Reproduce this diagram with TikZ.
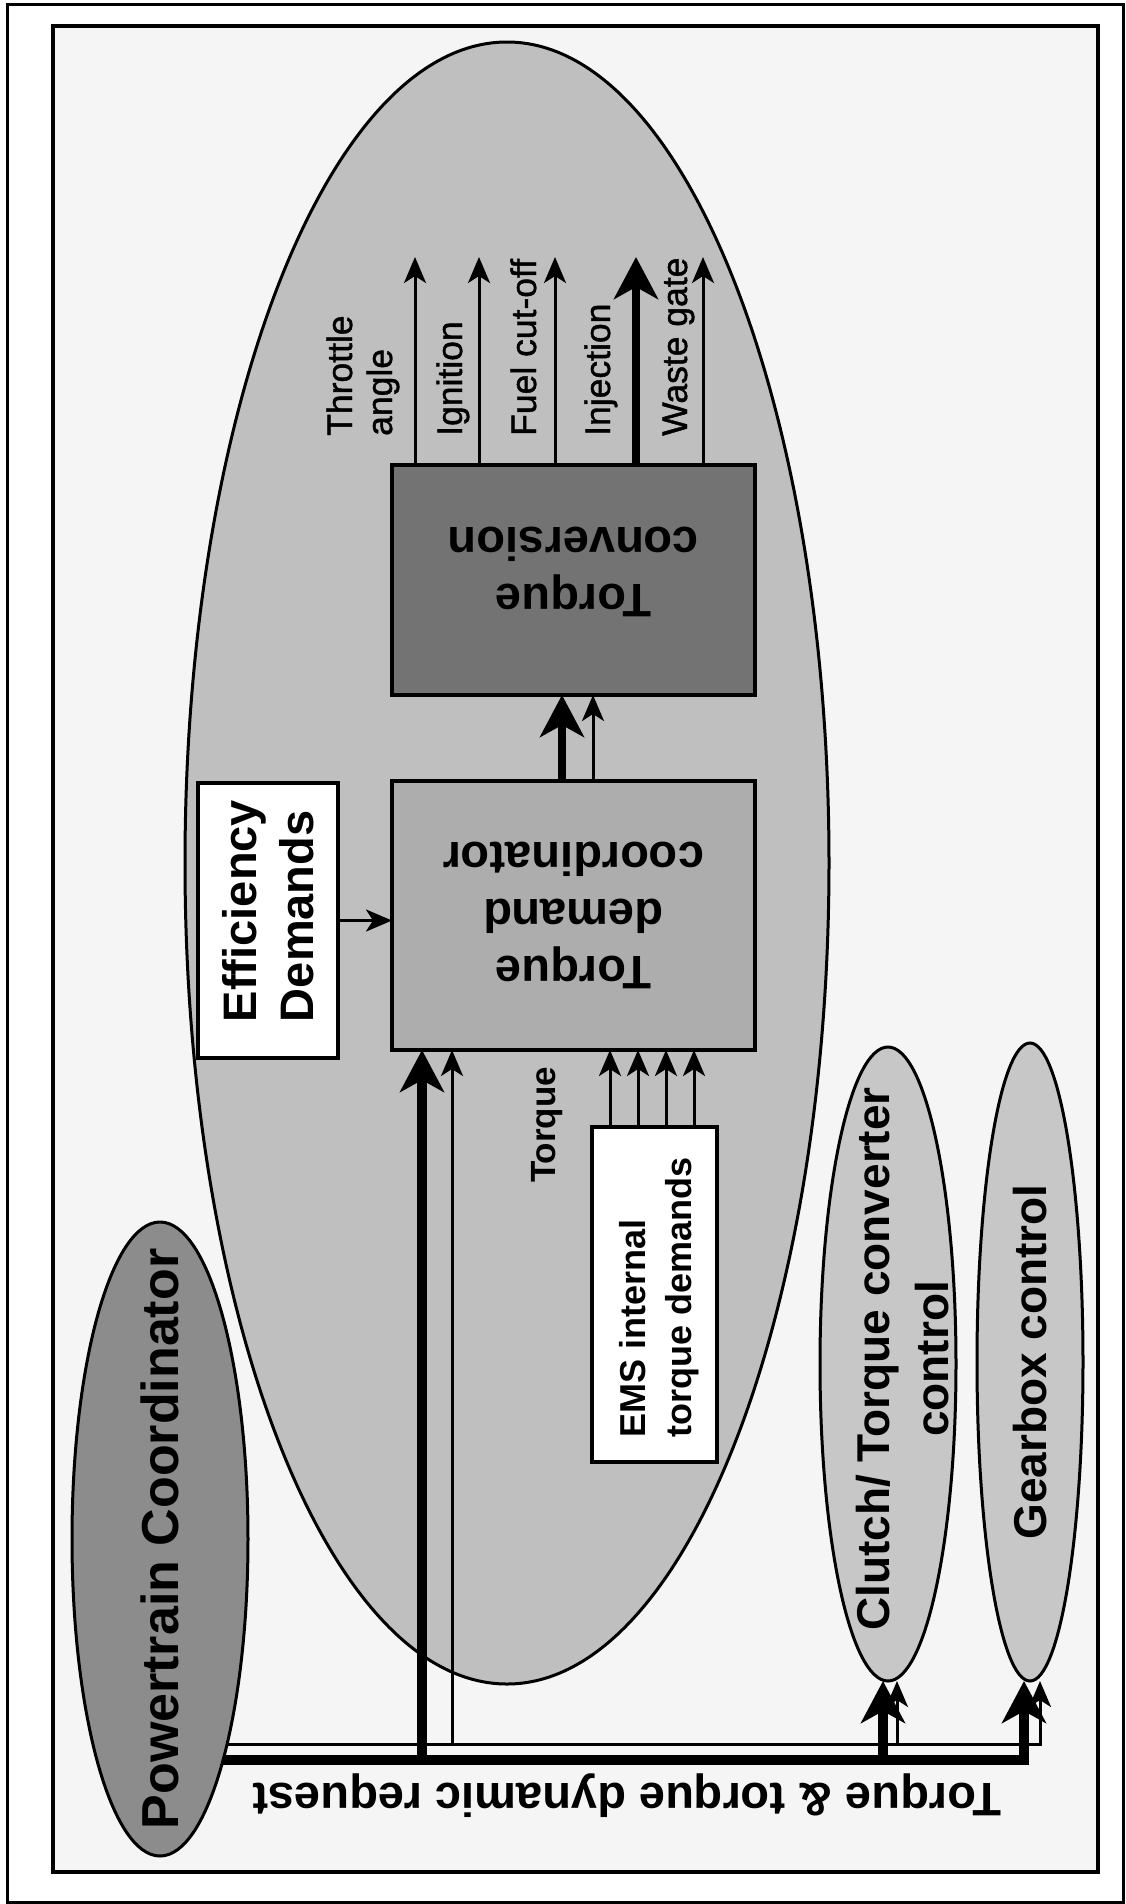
\documentclass[tikz,border=0pt]{standalone}
\usepackage{fontspec}
\setmainfont{Liberation Sans}
\newfontfamily\medfont[FakeBold=1.2]{Liberation Sans}
\usetikzlibrary{shapes.geometric,arrows.meta,calc}
\tikzset{
  oval/.style={ellipse, draw, line width=3pt, inner sep=0pt, outer sep=0pt},
  box/.style={rectangle, draw, line width=3.5pt, inner sep=0pt, outer sep=0pt},
  thinarrow/.style={line width=3pt, -{Stealth[length=26pt,width=22pt,inset=7pt]}},
  thickarrow/.style={line width=9pt, -{Stealth[length=42pt,width=44pt,inset=12pt]}},
  bigbold/.style={font=\bfseries\fontsize{47pt}{57pt}\selectfont, inner sep=0pt},
  midbold/.style={font=\bfseries\fontsize{36pt}{46pt}\selectfont, inner sep=0pt},
  smallbold/.style={font=\bfseries\fontsize{35pt}{42pt}\selectfont, inner sep=0pt},
  ptfont/.style={font=\bfseries\fontsize{52pt}{60pt}\selectfont, inner sep=0pt},
  clfont/.style={font=\bfseries\fontsize{46pt}{59pt}\selectfont, inner sep=0pt},
  outlabel/.style={font=\medfont\fontsize{35.5pt}{40pt}\selectfont, inner sep=0pt, rotate=90, anchor=base west}
}
\begin{document}
\begin{tikzpicture}[x=1pt,y=-1pt]
\useasboundingbox (0,0) rectangle (1126,1904);
\fill[white] (0,0) rectangle (1126,1904);
% frames
\draw[line width=3pt] (7,4) rectangle (1123,1902);
\draw[line width=3.5pt, fill=black!4] (53,26) rectangle (1098,1872);

% EMS ellipse
\node[oval, fill=black!25, minimum width=644pt, minimum height=1642pt] (ems) at (507,863) {};

% boxes
\node[box, fill=black!55, minimum width=363pt, minimum height=230pt] (conv) at (573.5,580) {};
\node[box, fill=black!32, minimum width=363pt, minimum height=269pt] (tdc) at (573.5,915.5) {};
\node[box, fill=white, minimum width=140pt, minimum height=275pt] (eff) at (268,920.5) {};
\node[box, fill=white, minimum width=125pt, minimum height=335pt] (emsin) at (654.5,1294.5) {};

% other ellipses
\node[oval, fill=black!45, minimum width=176pt, minimum height=634pt] (pt) at (160,1539) {};
\node[oval, fill=black!22, minimum width=136pt, minimum height=634pt] (cl) at (888,1364) {};
\node[oval, fill=black!22, minimum width=106pt, minimum height=638pt] (gb) at (1030,1362) {};

% texts
\node[bigbold, rotate=180, align=center] (convtxt) at (573.5,572) {Torque\\conversion};
\node[bigbold, rotate=180, align=center] (tdctxt) at (tdc.center) {Torque\\demand\\coordinator};
\node[bigbold, rotate=90, align=left] (efftxt) at (268,911) {Efficiency\\Demands};
\node[midbold, rotate=90, align=left] (emstxt) at (659,1297) {EMS internal\\torque demands};
\node[ptfont, rotate=90] (pttxt) at (pt.center) {Powertrain Coordinator};
\node[clfont, rotate=90, align=center] (cltxt) at (903,1359) {Clutch/ Torque converter\\control};
\node[clfont, rotate=90] (gbtxt) at (gb.center) {Gearbox control};
\node[bigbold, rotate=180] (reqtxt) at (627,1796) {Torque \& torque dynamic request};
\node[smallbold, rotate=90, anchor=base west] (tqtxt) at (555,1183) {Torque};

% output labels
\node[outlabel] (lthr) at (352,436) {Throttle};
\node[outlabel] (lang) at (392,436) {angle};
\node[outlabel] (lign) at (462,436) {Ignition};
\node[outlabel] (lfuel) at (536,436) {Fuel cut-off};
\node[outlabel] (linj) at (610,436) {Injection};
\node[outlabel] (lwg) at (687,436) {Waste gate};

% output arrows
\coordinate (oA) at (415,257);
\coordinate (oB) at (479,257);
\coordinate (oC) at (555,257);
\coordinate (oD) at (636,257);
\coordinate (oE) at (703,257);
\draw[thinarrow] (conv.north -| oA) -- (oA);
\draw[thinarrow] (conv.north -| oB) -- (oB);
\draw[thinarrow] (conv.north -| oC) -- (oC);
\draw[thickarrow, line width=8pt] (conv.north -| oD) -- (oD);
\draw[thinarrow] (conv.north -| oE) -- (oE);

% coordinator -> conversion
\draw[thickarrow, line width=8pt] ($(tdc.north)+(-11.5,0)$) -- ($(conv.south)+(-11.5,0)$);
\draw[thinarrow] ($(tdc.north)+(19.5,0)$) -- ($(conv.south)+(19.5,0)$);

% efficiency -> coordinator
\draw[thinarrow] (eff.east) -- (eff.east -| tdc.west);

% EMS internal -> coordinator
\foreach \dx [count=\i] in {-44.5,-16.5,11.5,39.5} {
  \coordinate (es\i) at ($(emsin.north)+(\dx,0)$);
  \draw[thinarrow] (es\i) -- (es\i |- tdc.south);
}

% bus
\coordinate (tdcT) at ($(tdc.south)+(-151.5,0)$);
\coordinate (tdct) at ($(tdc.south)+(-121.5,0)$);
\coordinate (clT) at ($(cl.south)+(-5,0)$);
\coordinate (clt) at ($(cl.south)+(9,0)$);
\coordinate (gbT) at ($(gb.south)+(-6,0)$);
\coordinate (gbt) at ($(gb.south)+(10,0)$);

\draw[thinarrow] (pt.-72.42) -| (gbt);
\draw[thinarrow] (pt.-72.42 -| tdct) -- (tdct);
\draw[thinarrow] (pt.-72.42 -| clt) -- (clt);
\draw[thickarrow, line width=10pt] (pt.-74.73) -| (gbT);
\draw[thickarrow, line width=10pt] (pt.-74.73 -| tdcT) -- (tdcT);
\draw[thickarrow, line width=10pt] (pt.-74.73 -| clT) -- (clT);
\end{tikzpicture}
\end{document}
